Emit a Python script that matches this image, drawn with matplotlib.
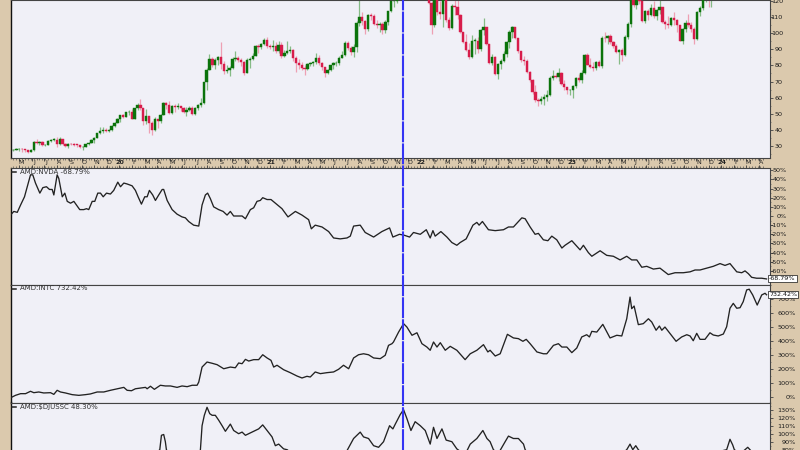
import numpy as np
import pandas as pd
import matplotlib
matplotlib.use('Agg')
import matplotlib.pyplot as plt
from matplotlib.lines import Line2D
from matplotlib.ticker import FixedLocator, FuncFormatter

# ---------------- AMD weekly candles (weeks ending Fridays, from 2019-04-19) ----------------
first_open = 27.2
close_2019 = [27.5, 27.9, 28.2, 27.9, 27.3, 26.4, 27.4, 32.4, 32.0, 32.6, 30.4, 30.7, 33.3, 33.6, 33.9,
              31.3, 34.2, 31.3, 29.7, 31.4, 30.9, 30.6, 30.5, 29.2, 29.6, 31.0, 31.7, 33.4, 35.0, 37.8,
              39.5, 39.6, 39.2, 40.0, 42.4, 44.5, 46.9]
high_2019 = [28.2, 28.9, 29.0, 28.6, 28.2, 27.6, 28.1, 32.8, 34.3, 33.1, 32.8, 31.3, 33.5, 34.0, 34.8,
             35.5, 35.5, 34.3, 32.0, 31.6, 32.0, 31.6, 31.3, 30.8, 30.0, 31.2, 32.6, 34.0, 35.5, 38.0,
             41.8, 41.5, 41.0, 40.5, 42.9, 45.0, 47.3]
low_2019 = [26.8, 27.3, 27.0, 26.0, 26.4, 25.9, 26.0, 27.0, 31.4, 30.7, 29.9, 29.9, 30.3, 32.3, 32.8,
            29.4, 30.5, 30.8, 29.4, 28.7, 30.3, 29.9, 29.6, 28.9, 27.4, 29.2, 30.7, 31.5, 32.0, 34.8,
            37.5, 38.0, 38.5, 38.5, 39.5, 42.0, 44.3]
close_2020 = [49.1, 48.2, 50.9, 51.2, 47.0, 53.3, 55.4, 53.3, 45.5, 48.5, 44.0, 39.6, 46.8, 45.4, 49.2,
              56.4, 55.2, 50.4, 54.9, 54.1, 54.7, 53.8, 51.3, 52.1, 53.6, 49.9, 53.5, 55.4, 56.7, 69.4,
              77.4, 83.9, 80.2, 83.4, 85.0, 80.6, 76.8, 77.4, 78.2, 84.0, 84.8, 83.2, 82.0, 75.3, 83.6,
              84.0, 86.1, 91.8, 91.2, 93.0, 95.9, 91.8]
high_2020 = [49.3, 49.9, 51.3, 52.5, 53.0, 53.8, 56.4, 59.3, 53.4, 53.0, 48.8, 45.5, 48.0, 47.0, 50.0,
             57.0, 57.0, 58.0, 55.6, 56.0, 56.7, 55.0, 54.0, 53.9, 55.0, 54.6, 54.0, 56.3, 60.0, 70.0,
             78.6, 87.2, 85.0, 84.5, 86.0, 94.3, 82.5, 80.5, 79.5, 85.5, 88.7, 86.0, 84.5, 82.5, 84.5,
             85.0, 87.5, 92.5, 93.5, 94.0, 97.0, 97.4]
low_2020 = [45.0, 47.3, 47.8, 49.4, 46.6, 46.8, 52.0, 52.6, 43.0, 43.7, 38.3, 36.8, 39.0, 41.0, 44.0,
            49.0, 53.0, 50.0, 50.0, 51.3, 53.0, 51.5, 50.5, 48.6, 51.5, 49.3, 49.5, 52.6, 54.3, 56.0,
            65.0, 77.0, 79.0, 78.0, 80.5, 77.5, 74.5, 75.0, 73.6, 78.0, 83.0, 82.0, 79.5, 74.0, 75.0,
            78.5, 83.5, 86.0, 88.0, 90.0, 92.5, 90.5]
close_2021 = [91.7, 92.3, 88.7, 92.8, 85.6, 87.5, 88.9, 89.6, 84.5, 81.6, 80.1, 78.6, 77.6, 81.1, 81.2,
              82.0, 84.8, 81.6, 78.8, 75.5, 77.0, 80.1, 81.2, 81.3, 84.7, 86.5, 94.0, 90.9, 88.5, 91.5,
              106.2, 110.1, 107.6, 102.5, 111.3, 110.8, 106.0, 104.8, 105.9, 101.9, 106.8, 113.7, 119.8,
              120.2, 137.5, 149.0, 154.3, 154.8, 144.0, 138.1, 139.1, 146.1, 143.9]
high_2021 = [93.0, 96.0, 94.5, 95.0, 94.3, 89.5, 95.0, 92.0, 90.0, 86.0, 84.0, 82.0, 80.0, 81.5, 82.3,
             83.0, 88.0, 86.5, 82.0, 79.0, 78.0, 80.5, 82.0, 82.5, 86.0, 89.0, 95.0, 95.0, 92.0, 93.0,
             107.5, 122.0, 113.0, 108.5, 112.0, 112.5, 112.0, 108.5, 107.0, 107.0, 108.0, 114.0, 122.0,
             127.0, 140.0, 151.0, 155.0, 159.0, 164.5, 145.0, 145.0, 147.0, 154.0]
low_2021 = [90.0, 89.0, 87.5, 88.0, 84.6, 85.0, 87.0, 87.5, 82.5, 76.1, 78.0, 77.0, 74.0, 77.0, 79.5,
            79.5, 81.0, 80.5, 77.0, 72.5, 74.5, 76.5, 78.0, 79.5, 80.5, 84.5, 86.0, 89.5, 86.5, 85.0,
            88.5, 104.5, 105.0, 99.5, 101.5, 108.0, 105.0, 103.0, 100.5, 99.5, 100.0, 105.0, 113.0,
            116.0, 119.0, 136.0, 143.0, 148.0, 140.0, 133.0, 130.0, 137.0, 142.0]
close_2022 = [132.0, 136.9, 118.8, 105.0, 123.6, 113.2, 112.0, 121.3, 108.4, 103.0, 117.1, 116.0, 111.2,
              100.5, 94.7, 89.6, 85.5, 95.1, 95.1, 90.2, 102.0, 103.7, 93.0, 81.6, 85.3, 74.7, 80.8,
              83.0, 87.0, 94.5, 100.5, 103.8, 97.3, 88.8, 83.6, 82.8, 75.6, 71.0, 63.4, 58.4, 57.6,
              59.2, 60.1, 61.9, 72.4, 73.3, 73.1, 75.5, 68.6, 66.6, 64.5, 64.8]
high_2022 = [150.0, 139.0, 139.0, 120.0, 132.6, 125.0, 120.0, 122.0, 122.5, 110.0, 118.0, 121.0, 125.7,
             112.0, 101.0, 99.5, 94.0, 99.0, 97.0, 97.5, 102.5, 109.5, 104.0, 93.5, 87.0, 86.0, 81.5,
             84.0, 89.0, 95.0, 102.0, 104.6, 104.0, 97.0, 89.0, 86.0, 84.0, 76.5, 71.5, 68.0, 60.0,
             61.0, 62.0, 65.0, 73.5, 77.0, 75.0, 78.5, 76.0, 71.0, 66.0, 65.5]
low_2022 = [131.0, 129.0, 118.0, 99.4, 104.0, 111.0, 109.0, 104.0, 107.0, 102.0, 102.5, 111.0, 109.0,
            100.0, 94.0, 89.0, 84.0, 84.5, 87.0, 87.5, 89.0, 99.0, 92.5, 81.0, 80.0, 74.0, 71.6,
            78.0, 82.0, 85.0, 91.0, 97.0, 96.5, 88.0, 82.0, 80.0, 75.0, 70.0, 62.5, 57.5, 54.6,
            56.0, 55.5, 58.0, 61.0, 71.0, 72.0, 70.5, 68.0, 65.0, 62.5, 61.5]
close_2023 = [67.2, 71.9, 71.0, 75.4, 86.2, 80.5, 79.0, 78.1, 82.1, 79.9, 97.0, 96.9, 98.0, 94.6, 92.0,
              88.4, 89.4, 86.5, 97.8, 105.8, 127.0, 117.8, 124.9, 120.1, 107.5, 113.9, 111.2, 115.9,
              110.6, 114.4, 116.0, 107.1, 105.5, 105.0, 109.4, 108.1, 104.8, 95.4, 102.8, 106.4, 105.0,
              102.5, 96.3, 113.0, 115.6, 122.0, 122.5, 121.4, 128.0, 139.0, 139.6, 147.4]
high_2023 = [68.0, 72.5, 74.5, 77.0, 87.0, 87.5, 84.5, 82.0, 83.0, 83.5, 98.0, 100.5, 99.0, 99.5, 95.0,
             93.0, 90.0, 90.5, 99.0, 107.0, 127.5, 132.8, 128.0, 127.5, 120.5, 114.5, 115.0, 118.0,
             120.0, 115.0, 122.0, 116.5, 108.0, 110.5, 110.0, 113.0, 109.0, 105.0, 103.5, 108.0, 112.0,
             107.0, 104.0, 114.0, 117.0, 123.0, 124.5, 123.5, 130.0, 140.0, 141.0, 148.0]
low_2023 = [60.0, 66.0, 69.5, 69.0, 74.5, 80.0, 78.5, 76.5, 77.0, 79.0, 78.5, 94.5, 93.5, 93.5, 90.5,
            87.5, 81.0, 82.5, 86.0, 96.5, 104.0, 116.0, 115.0, 118.0, 107.0, 106.5, 108.5, 110.5,
            109.5, 108.0, 112.0, 106.5, 102.5, 103.5, 104.5, 105.0, 100.5, 95.0, 93.5, 101.0, 104.0,
            101.0, 93.1, 96.0, 110.5, 114.5, 119.5, 116.0, 116.0, 127.0, 136.0, 138.5]
close_2024 = [138.6, 146.6, 174.2, 177.2, 179.2, 174.6, 175.1, 176.5, 202.6, 211.4, 190.8, 179.0, 180.5,
              169.9, 163.2]
high_2024 = [148.0, 150.0, 175.0, 181.0, 180.0, 184.0, 181.0, 179.0, 205.0, 227.3, 212.0, 195.0, 183.0,
             181.0, 171.0]
low_2024 = [134.0, 137.0, 145.0, 171.0, 163.0, 172.0, 168.0, 161.0, 177.0, 195.0, 185.0, 178.0, 175.0,
            165.0, 158.0]

# ---------------- ratio panels (date as decimal year, percent change) ----------------
nvda_t = [2019.276, 2019.298, 2019.321, 2019.343, 2019.369, 2019.387, 2019.409, 2019.424, 2019.442, 2019.471,
          2019.491, 2019.515, 2019.535, 2019.553, 2019.564, 2019.586, 2019.597, 2019.620, 2019.637, 2019.653,
          2019.675, 2019.697, 2019.736, 2019.763, 2019.781, 2019.796, 2019.819, 2019.836, 2019.856, 2019.874,
          2019.892, 2019.914, 2019.940, 2019.962, 2019.989, 2020.007, 2020.029, 2020.051, 2020.084, 2020.106,
          2020.124, 2020.146, 2020.168, 2020.184, 2020.199, 2020.221, 2020.239, 2020.261, 2020.284, 2020.294,
          2020.317, 2020.350, 2020.383, 2020.416, 2020.438, 2020.460, 2020.493, 2020.527, 2020.549, 2020.571,
          2020.586, 2020.604, 2020.626, 2020.659, 2020.689, 2020.715, 2020.737, 2020.759, 2020.792, 2020.815,
          2020.837, 2020.870, 2020.892, 2020.914, 2020.936, 2020.952, 2020.981, 2021.007, 2021.036, 2021.080,
          2021.120, 2021.169, 2021.213, 2021.257, 2021.275, 2021.301, 2021.346, 2021.390, 2021.423, 2021.467,
          2021.512, 2021.534, 2021.556, 2021.600, 2021.633, 2021.689, 2021.744, 2021.795, 2021.817, 2021.861,
          2021.892, 2021.928, 2021.954, 2021.999, 2022.039, 2022.065, 2022.083, 2022.098, 2022.136, 2022.176,
          2022.209, 2022.242, 2022.264, 2022.304, 2022.349, 2022.375, 2022.390, 2022.412, 2022.452, 2022.497,
          2022.552, 2022.585, 2022.618, 2022.674, 2022.696, 2022.729, 2022.762, 2022.784, 2022.817, 2022.847,
          2022.873, 2022.906, 2022.940, 2022.961, 2023.006, 2023.028, 2023.061, 2023.083, 2023.116, 2023.139,
          2023.194, 2023.238, 2023.282, 2023.327, 2023.371, 2023.404, 2023.438, 2023.471, 2023.504, 2023.548,
          2023.592, 2023.647, 2023.692, 2023.747, 2023.792, 2023.825, 2023.858, 2023.902, 2023.946, 2023.991,
          2024.024, 2024.057, 2024.102, 2024.135, 2024.157, 2024.179, 2024.201, 2024.234, 2024.268, 2024.300]
nvda_pct = [1, 5, 4, 12, 21, 32, 45, 45, 36, 25,
            31, 32, 29, 29, 23, 45, 41, 21, 25, 16,
            14, 16, 7, 7, 8, 7, 16, 16, 25, 25,
            21, 25, 24, 28, 37, 32, 36, 35, 33, 28,
            21, 13, 21, 21, 28, 23, 17, 23, 29, 29,
            17, 7, 2, -1, -2, -6, -10, -11, 12, 23,
            25, 19, 10, 7, 5, 1, 5, 0, 0, 0,
            -3, 7, 9, 16, 17, 20, 18, 18, 14, 8,
            -1, 5, 1, -4, -14, -10, -12, -17, -24, -25,
            -24, -22, -11, -10, -18, -23, -17, -13, -23, -20,
            -21, -23, -18, -20, -15, -24, -16, -22, -17, -23,
            -29, -32, -29, -25, -10, -7, -10, -6, -15, -16,
            -15, -12, -12, -2, -3, -12, -20, -19, -26, -27,
            -22, -26, -35, -32, -27, -31, -37, -32, -40, -44,
            -38, -43, -44, -48, -44, -48, -48, -56, -55, -58,
            -57, -64, -62, -62, -61, -59, -59, -57, -55, -52,
            -54, -52, -61, -62, -60, -63, -67, -68, -68, -68.79]

intc_t = [2019.283, 2019.309, 2019.343, 2019.376, 2019.409, 2019.431, 2019.464, 2019.497, 2019.542, 2019.564,
          2019.586, 2019.608, 2019.641, 2019.686, 2019.730, 2019.774, 2019.807, 2019.852, 2019.896, 2019.940,
          2019.985, 2020.029, 2020.051, 2020.080, 2020.106, 2020.139, 2020.173, 2020.184, 2020.206, 2020.232,
          2020.272, 2020.305, 2020.339, 2020.383, 2020.416, 2020.450, 2020.483, 2020.516, 2020.527, 2020.549,
          2020.582, 2020.616, 2020.649, 2020.693, 2020.737, 2020.770, 2020.792, 2020.815, 2020.837, 2020.859,
          2020.892, 2020.925, 2020.952, 2020.981, 2021.007, 2021.025, 2021.047, 2021.091, 2021.135, 2021.180,
          2021.213, 2021.246, 2021.268, 2021.301, 2021.335, 2021.379, 2021.423, 2021.456, 2021.489, 2021.523,
          2021.556, 2021.589, 2021.622, 2021.655, 2021.689, 2021.733, 2021.766, 2021.788, 2021.811, 2021.821,
          2021.855, 2021.888, 2021.910, 2021.944, 2021.977, 2022.010, 2022.043, 2022.065, 2022.087, 2022.110,
          2022.132, 2022.165, 2022.198, 2022.242, 2022.297, 2022.331, 2022.375, 2022.419, 2022.448, 2022.463,
          2022.497, 2022.530, 2022.578, 2022.618, 2022.651, 2022.681, 2022.703, 2022.729, 2022.774, 2022.817,
          2022.840, 2022.884, 2022.917, 2022.940, 2022.973, 2023.006, 2023.039, 2023.072, 2023.105, 2023.123,
          2023.139, 2023.172, 2023.212, 2023.260, 2023.305, 2023.338, 2023.371, 2023.393, 2023.404, 2023.420,
          2023.448, 2023.481, 2023.515, 2023.537, 2023.566, 2023.588, 2023.604, 2023.625, 2023.659, 2023.699,
          2023.736, 2023.770, 2023.792, 2023.813, 2023.836, 2023.858, 2023.891, 2023.924, 2023.946, 2023.979,
          2024.013, 2024.035, 2024.057, 2024.079, 2024.102, 2024.124, 2024.145, 2024.168, 2024.185, 2024.208,
          2024.238, 2024.268, 2024.290, 2024.300]
intc_pct = [0, 14, 26, 26, 43, 33, 38, 31, 33, 21,
            50, 38, 31, 19, 14, 19, 24, 38, 38, 50,
            61, 71, 50, 47, 61, 66, 71, 61, 79, 57,
            86, 81, 81, 71, 81, 76, 86, 86, 109, 216,
            252, 243, 233, 204, 216, 211, 245, 240, 271, 259,
            269, 269, 304, 281, 264, 216, 229, 197, 176, 152,
            138, 150, 145, 181, 169, 176, 181, 200, 229, 204,
            281, 304, 311, 304, 281, 276, 300, 371, 383, 395,
            466, 526, 502, 443, 461, 383, 359, 336, 395, 359,
            390, 336, 364, 336, 269, 311, 336, 376, 324, 336,
            295, 311, 450, 424, 419, 400, 414, 383, 324, 311,
            311, 371, 383, 359, 359, 319, 352, 431, 447, 431,
            471, 466, 521, 424, 443, 438, 561, 716, 633, 652,
            519, 526, 561, 538, 479, 509, 479, 502, 455, 400,
            431, 447, 438, 404, 457, 414, 414, 461, 445, 438,
            452, 504, 636, 671, 636, 640, 683, 767, 772, 731,
            659, 731, 743, 732.42]

djussc_t = [2019.283, 2019.409, 2019.542, 2019.675, 2019.807, 2019.940, 2020.073, 2020.173, 2020.239, 2020.268,
            2020.279, 2020.294, 2020.305, 2020.312, 2020.372, 2020.438, 2020.505, 2020.538, 2020.549, 2020.564,
            2020.582, 2020.600, 2020.616, 2020.637, 2020.659, 2020.682, 2020.704, 2020.737, 2020.759, 2020.792,
            2020.815, 2020.837, 2020.859, 2020.892, 2020.925, 2020.952, 2020.981, 2021.014, 2021.036, 2021.058,
            2021.091, 2021.114, 2021.169, 2021.235, 2021.301, 2021.368, 2021.434, 2021.501, 2021.556, 2021.600,
            2021.622, 2021.655, 2021.689, 2021.722, 2021.755, 2021.795, 2021.817, 2021.833, 2021.866, 2021.888,
            2021.910, 2021.937, 2021.965, 2021.999, 2022.032, 2022.065, 2022.087, 2022.110, 2022.143, 2022.171,
            2022.209, 2022.242, 2022.264, 2022.297, 2022.331, 2022.375, 2022.415, 2022.442, 2022.463, 2022.485,
            2022.517, 2022.563, 2022.585, 2022.618, 2022.651, 2022.685, 2022.696, 2022.762, 2022.829, 2022.895,
            2022.961, 2023.028, 2023.127, 2023.227, 2023.293, 2023.371, 2023.393, 2023.411, 2023.431, 2023.448,
            2023.493, 2023.592, 2023.692, 2023.792, 2023.891, 2023.991, 2024.035, 2024.057, 2024.075, 2024.086,
            2024.124, 2024.157, 2024.175, 2024.190, 2024.236, 2024.270, 2024.300]
djussc_pct = [0, 25, 20, 10, 20, 45, 70, 60, 75, 80,
              98, 99, 90, 80, 65, 60, 62, 80, 110, 123,
              133, 125, 123, 123, 117, 110, 103, 112, 104, 100,
              102, 98, 100, 103, 106, 111, 104, 96, 85, 87,
              81, 80, 72, 66, 70, 62, 68, 75, 94, 102,
              96, 94, 85, 83, 90, 110, 106, 112, 124, 130,
              119, 104, 115, 110, 104, 87, 108, 94, 106, 92,
              90, 81, 78, 74, 87, 94, 104, 94, 90, 80,
              75, 90, 97, 94, 94, 87, 80, 65, 55, 60,
              52, 58, 65, 70, 68, 80, 87, 80, 85, 80,
              72, 68, 62, 66, 70, 78, 80, 93, 86, 80,
              75, 80, 83, 80, 70, 72, 48.3]

panel_labels = ['AMD:NVDA -68.79%', 'AMD:INTC 732.42%', 'AMD:$DJUSSC 48.30%']
last_values = ['-68.79%', '732.42%', '48.30%']
month_letters = ['J', 'F', 'M', 'A', 'M', 'J', 'J', 'A', 'S', 'O', 'N', 'D']
marker_date = 2021.886

# ---------------- build candle table ----------------
closes = np.array(close_2019 + close_2020 + close_2021 + close_2022 + close_2023 + close_2024)
highs = np.array(high_2019 + high_2020 + high_2021 + high_2022 + high_2023 + high_2024)
lows = np.array(low_2019 + low_2020 + low_2021 + low_2022 + low_2023 + low_2024)
opens = np.concatenate([[first_open], closes[:-1]])
weeks = pd.date_range('2019-04-19', periods=len(closes), freq='7D')


def dec_year(d):
    return d.year + (d.dayofyear - 1) / (366.0 if d.is_leap_year else 365.0)


tw = np.array([dec_year(d) for d in weeks])

# ---------------- figure ----------------
W, H = 800, 450
TAN = '#dbc9ad'
PANEL = '#f0f0f7'
fig = plt.figure(figsize=(8, 4.5), dpi=100, facecolor=TAN)

X0, X1 = 10.5, 770.0
XMIN, XMAX = 2019.276, 2024.323


def add_panel(top_px, bot_px):
    ax = fig.add_axes([X0 / W, 1 - bot_px / H, (X1 - X0) / W, (bot_px - top_px) / H])
    ax.set_facecolor(PANEL)
    ax.set_xlim(XMIN, XMAX)
    for s in ['top', 'bottom', 'right']:
        ax.spines[s].set_color('#444444')
        ax.spines[s].set_linewidth(0.8)
    ax.spines['left'].set_color('#111111')
    ax.spines['left'].set_linewidth(1.0)
    ax.yaxis.tick_right()
    ax.tick_params(axis='x', which='both', bottom=False, top=False, labelbottom=False, labeltop=False)
    return ax


ax0 = add_panel(0, 157.5)
ax1 = add_panel(168, 284.5)
ax2 = add_panel(284.5, 402.5)
ax3 = add_panel(402.5, 520)

# ---- price panel ----
up = closes >= opens
body_col = np.where(up, '#0b730b', '#d71d4b')
wick_col = np.where(up, '#86bb86', '#eea0b3')
ax0.vlines(tw, lows, highs, colors=wick_col, lw=0.9, zorder=2)
ax0.bar(tw, np.maximum(np.abs(closes - opens), 0.4), bottom=np.minimum(opens, closes), width=0.0155,
        color=body_col, edgecolor=body_col, lw=0.3, zorder=3)
ax0.set_ylim(22.8, 120.62)

# ---- ratio panels ----
line_kw = dict(color='#222222', lw=0.95, zorder=3)
ax1.plot(nvda_t, nvda_pct, **line_kw)
ax1.set_ylim(-74.86, 52.46)
ax2.plot(intc_t, intc_pct, **line_kw)
ax2.set_ylim(-37.1, 805.7)
ax3.plot(djussc_t, djussc_pct, **line_kw)
ax3.set_ylim(-7.9, 139.0)

# ---- y ticks ----
ticks_cfg = [
    (ax0, np.arange(30, 121, 10), np.arange(25, 121, 5), lambda v, p: f'{v:.0f}', 7.3),
    (ax1, np.arange(-60, 51, 10), np.arange(-70, 51, 5), lambda v, p: f'{v:.0f}%', 10.2),
    (ax2, np.arange(0, 701, 100), np.arange(0, 801, 50), lambda v, p: f'{v:.0f}%', 16.7),
    (ax3, np.arange(80, 131, 10), np.arange(0, 136, 5), lambda v, p: f'{v:.0f}%', 16.7),
]
for ax, maj, mnr, fmt, pad in ticks_cfg:
    ax.yaxis.set_major_locator(FixedLocator(maj))
    ax.yaxis.set_minor_locator(FixedLocator(mnr))
    ax.yaxis.set_major_formatter(FuncFormatter(fmt))
    ax.tick_params(axis='y', which='major', direction='out', length=2, width=0.6, color='#444444',
                   labelsize=4.6, labelcolor='#1a1a1a', pad=pad, left=False, right=True)
    ax.tick_params(axis='y', which='minor', direction='out', length=1, width=0.5, color='#666666',
                   left=False, right=True)
    for lab in ax.get_yticklabels():
        lab.set_horizontalalignment('right')

# ---- date strip ticks ----
month_starts = []
month_texts = []
for y in range(2019, 2025):
    for m in range(1, 13):
        t = y + (m - 1) / 12.0
        if XMIN <= t <= XMAX:
            month_starts.append(t)
            month_texts.append(str(y)[2:] if m == 1 else month_letters[m - 1])

for ax, where in [(ax0, 'bottom'), (ax1, 'top')]:
    ax.xaxis.set_major_locator(FixedLocator(month_starts))
    ax.xaxis.set_minor_locator(FixedLocator(tw))
    ax.tick_params(axis='x', which='major', direction='out', length=2.2, width=0.6, color='#333333',
                   **{where: True})
    ax.tick_params(axis='x', which='minor', direction='out', length=1.1, width=0.5, color='#555555',
                   **{where: True})

strip = fig.add_axes([X0 / W, 1 - 168 / H, (X1 - X0) / W, 10.5 / H])
strip.set_xlim(XMIN, XMAX)
strip.set_ylim(0, 1)
strip.axis('off')
for t, txt in zip(month_starts, month_texts):
    is_year = txt.isdigit()
    strip.text(t + (0.004 if is_year else 0.014), 0.5, txt, ha='center', va='center',
               fontsize=4.6, color='#222222', fontweight='bold' if is_year else 'normal')

# ---- panel labels ----
for (ax_top_px, label) in zip([172, 288.5, 406.5], panel_labels):
    yf = 1 - ax_top_px / H
    fig.add_artist(Line2D([11.8 / W, 16.2 / W], [yf, yf], color='#222222', lw=1.1))
    fig.text(20 / W, yf, label, fontsize=5, color='#333333', ha='left', va='center')

# ---- last value boxes ----
for ax, val, txt in [(ax1, nvda_pct[-1], last_values[0]), (ax2, intc_pct[-1], last_values[1]),
                     (ax3, djussc_pct[-1], last_values[2])]:
    ax.annotate(txt, xy=(1.0, val), xycoords=('axes fraction', 'data'), xytext=(-0.6, 0),
                textcoords='offset points', ha='left', va='center', fontsize=4.6, color='#111111',
                bbox=dict(boxstyle='square,pad=0.15', fc='white', ec='#111111', lw=0.5),
                annotation_clip=False, zorder=20)

# ---- vertical marker ----
xf = (X0 + (marker_date - XMIN) / (XMAX - XMIN) * (X1 - X0)) / W
fig.add_artist(Line2D([xf, xf], [0, 1], color='#3434f4', lw=1.5, linestyle=(0, (10.0, 0.55)), zorder=10))

fig.savefig('out.png', dpi=100, facecolor=fig.get_facecolor())
